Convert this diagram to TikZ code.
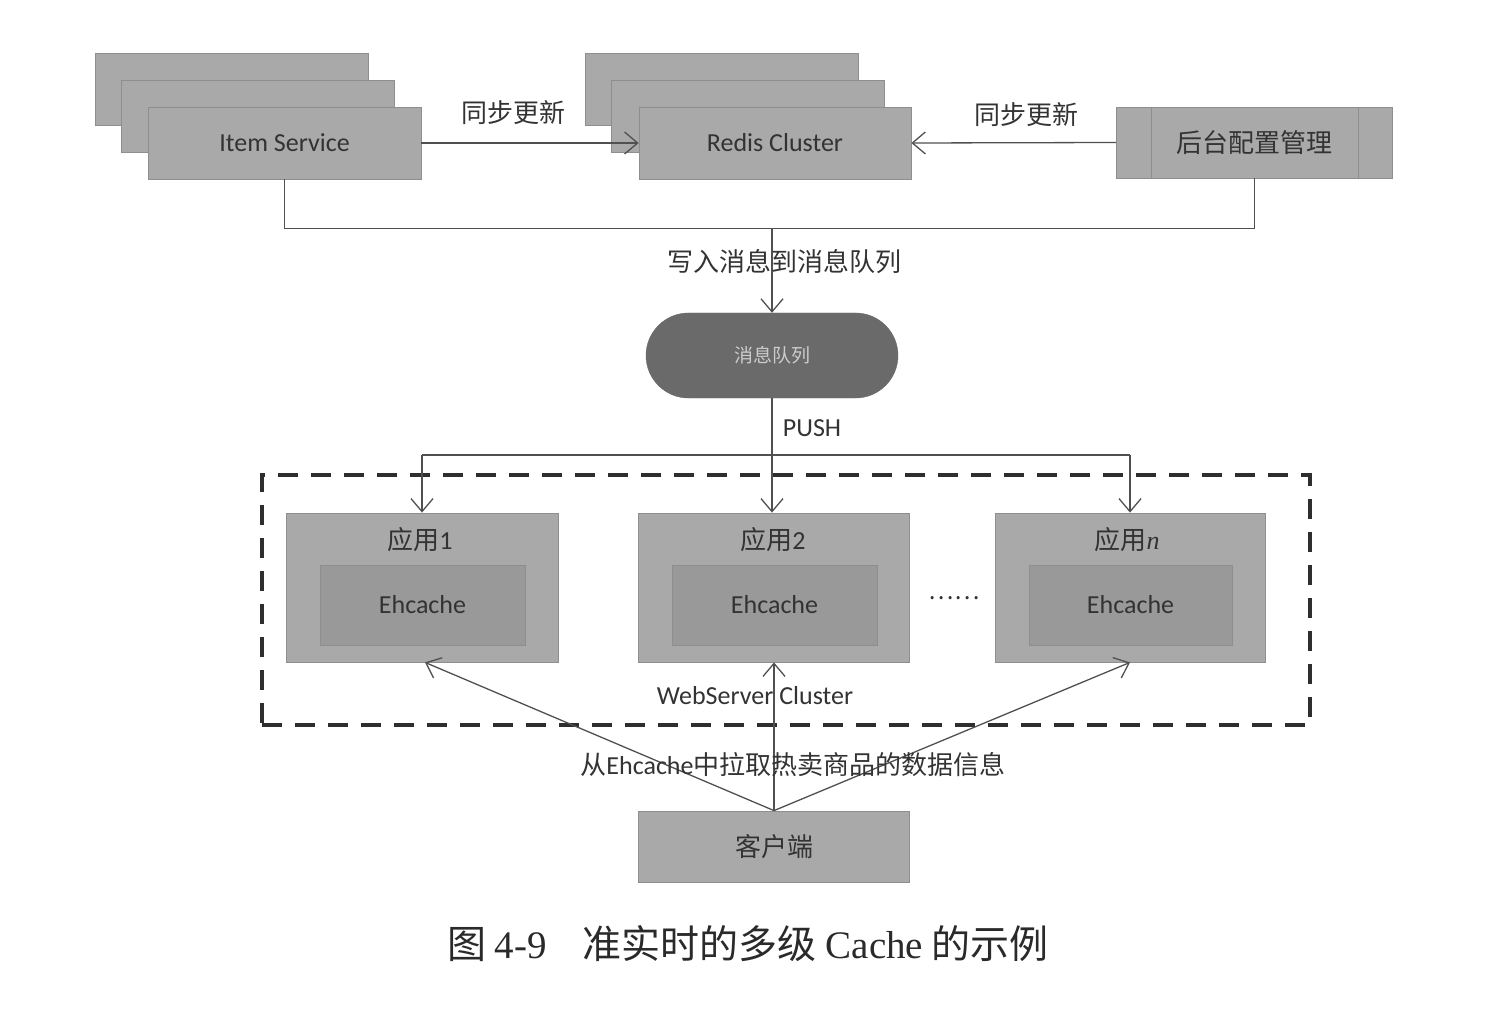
\documentclass[tikz,border=0pt]{standalone}
\usepackage{fontspec}
\setmainfont{Carlito}
\newfontfamily\cjk{Noto Sans CJK SC}
\newfontfamily\serifcap{Liberation Serif}
\newcommand{\zh}[1]{{\cjk #1}}
\usetikzlibrary{arrows.meta,shapes.misc}
\definecolor{boxfill}{HTML}{A9A9A9}
\definecolor{boxline}{HTML}{8E8E8E}
\definecolor{innerfill}{HTML}{999999}
\definecolor{mqfill}{HTML}{6A6A6A}
\definecolor{txt}{HTML}{333333}
\definecolor{lin}{HTML}{505050}
\definecolor{dashcol}{HTML}{2E2E2E}
\definecolor{captxt}{HTML}{2A2A2A}
\begin{document}
\begin{tikzpicture}[x=1pt,y=-1pt,
  every node/.style={text=txt,font=\fontsize{26}{30}\selectfont},
  gbox/.style={draw=boxline,line width=0.8pt,fill=boxfill,minimum width=#1,minimum height=72pt,inner sep=0pt},
  gbox/.default=273pt,
  appbox/.style={draw=boxline,line width=0.8pt,fill=boxfill,minimum width=#1,minimum height=149pt,inner sep=0pt},
  innerbox/.style={draw=boxline,line width=0.8pt,fill=innerfill,minimum width=205pt,minimum height=80pt,inner sep=0pt},
  conn/.style={draw=lin,line width=1.3pt},
  arr/.style={conn,-{Straight Barb[length=13pt,width=22pt,line width=1.3pt]}},
  lbl/.style={inner sep=0pt}
]
\useasboundingbox (0,0) rectangle (1510,1024);
% Item Service stack
\node[gbox] (itemc) at (232,89.5) {};
\node[gbox] (itemb) at (258,116) {};
\node[gbox] (item) at (284.5,143) {Item Service};
% Redis stack
\node[gbox] (redisc) at (722,89.5) {};
\node[gbox] (redisb) at (748,116) {};
\node[gbox=272pt] (redis) at (775,143) {Redis Cluster};
% admin
\node[gbox=276pt,minimum height=71pt] (admin) at (1254.5,142.5) {\zh{后台配置管理}};
\draw[boxline,line width=0.8pt] ([xshift=35pt]admin.north west) -- ([xshift=35pt]admin.south west);
\draw[boxline,line width=0.8pt] ([xshift=-35pt]admin.north east) -- ([xshift=-35pt]admin.south east);
% sync arrows
\draw[arr] (item.east) -- (redis.west);
\node[lbl] (sync1) at (513,113) {\zh{同步更新}};
\draw[arr] (admin.west) -- (redis.east);
\node[lbl] (sync2) at (1026,115) {\zh{同步更新}};
% collection line
\draw[conn] (item.south) -- ++(0,49) coordinate (jl) -| (admin.south);
% message queue
\node[rounded rectangle,fill=mqfill,draw=mqfill,minimum width=252pt,minimum height=85pt,inner sep=0pt,text=white!80!black,font=\cjk\fontsize{19}{22}\selectfont] (mq) at (772,355.5) {消息队列};
\coordinate (j) at (mq.north |- jl);
\draw[arr] (j) -- (mq.north);
\node[lbl] (write) at (784,262) {\zh{写入消息到消息队列}};
% push distribution
\coordinate (p) at (772,455);
\draw[conn] (mq.south) -- (p);
\node[lbl] (push) at (812,428) {PUSH};
% cluster
\node[draw=dashcol,line width=3.6pt,dash pattern=on 20pt off 13pt,minimum width=1048pt,minimum height=250pt,inner sep=0pt] (cluster) at (786,600) {};
\node[lbl] (wsc) at (755,696) {WebServer Cluster};
% apps
\node[appbox=272pt] (app1) at (422,587.5) {};
\node[appbox=271pt] (app2) at (774,587.5) {};
\node[appbox=270pt] (appn) at (1130,587.5) {};
\node[lbl] (app1l) at (420,540) {\zh{应用}1};
\node[lbl] (app2l) at (773,540) {\zh{应用}2};
\node[lbl] (appnl) at (1127,540) {\zh{应用}{\serifcap\itshape n}};
\node[innerbox] (eh1) at (422.5,605) {Ehcache};
\node[innerbox] (eh2) at (774.5,605) {Ehcache};
\node[innerbox,minimum width=203pt] (ehn) at (1130.5,605) {Ehcache};
\node[lbl,font=\cjk\fontsize{24}{28}\selectfont] (dots) at (954,598) {……};
\coordinate (p1) at (app1.north |- p);
\coordinate (pn) at (appn.north |- p);
\draw[conn] (p1) -- (pn);
\draw[arr] (p1) -- (app1.north);
\draw[arr] (p) -- (app2.north -| p);
\draw[arr] (pn) -- (appn.north);
% client
\node[gbox=271pt,minimum height=71pt] (client) at (774,846.5) {\zh{客户端}};
\draw[arr] (client.north) -- ([xshift=3pt]app1.south);
\draw[arr] (client.north) -- (app2.south);
\draw[arr] (client.north) -- (appn.south);
\node[lbl] (pull) at (793,765) {\zh{从}Ehcache\zh{中拉取热卖商品的数据信息}};
% caption
\node[lbl,text=captxt,font=\fontsize{39}{45}\selectfont] (cap) at (748,944) {\zh{图}\hspace{8pt}{\serifcap 4-9}\hspace{36pt}\zh{准实时的多级}\hspace{9pt}{\serifcap Cache}\hspace{8pt}\zh{的示例}};
\end{tikzpicture}
\end{document}
